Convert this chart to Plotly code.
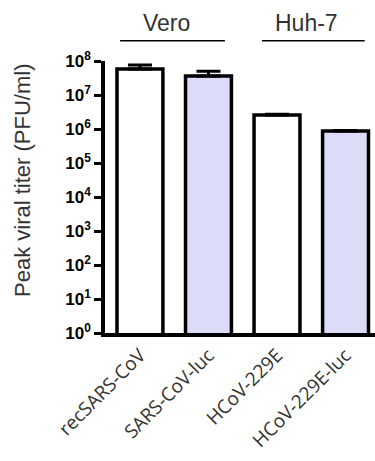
import plotly.graph_objects as go

categories = ["recSARS-CoV", "SARS-CoV-luc", "HCoV-229E", "HCoV-229E-luc"]
titers = [5.8e7, 3.6e7, 2.6e6, 8.7e5]
err_plus = [1.8e7, 1.4e7, 1.2e5, 4e4]
colors = ["white", "#dcdcf8", "white", "#dcdcf8"]
tick_vals = [10**i for i in range(0, 9)]
tick_text = ["10<sup>%d</sup>" % i for i in range(0, 9)]
groups = ["Vero", "Huh-7"]

fig = go.Figure()
fig.add_trace(go.Bar(
    x=list(range(len(categories))), y=titers,
    marker=dict(color=colors, line=dict(color="black", width=3.5)),
    width=0.67,
    error_y=dict(type="data", array=err_plus, arrayminus=[0]*4, symmetric=False,
                 color="black", thickness=3, width=12),
))

fig.update_layout(
    width=375, height=461,
    margin=dict(l=105, r=0, t=61, b=128, autoexpand=False),
    paper_bgcolor="white", plot_bgcolor="white",
    showlegend=False,
    font=dict(family="Liberation Sans, Arial, sans-serif", color="#333"),
)
fig.update_xaxes(
    range=[-0.51, 3.43], automargin=False,
    tickvals=list(range(len(categories))), ticktext=categories,
    tickangle=-45, tickfont=dict(size=19, family="Open Sans, sans-serif", color="#333"),
    showline=True, linecolor="black", linewidth=3.5, ticks="", showgrid=False, zeroline=False,
)
fig.update_yaxes(
    type="log", range=[0, 8], automargin=False,
    tickvals=tick_vals, ticktext=tick_text,
    tickfont=dict(size=17, family="Liberation Sans, Arial, sans-serif",
                  color="black", weight="bold"),
    ticks="outside", ticklen=7, tickwidth=3, tickcolor="black",
    showline=True, linecolor="black", linewidth=3.5, showgrid=False, zeroline=False,
)

fig.add_annotation(text="Peak viral titer (PFU/ml)", textangle=-90, xref="paper", yref="paper",
                   x=(22 - 105) / 270, y=(333 - 181) / 272, showarrow=False,
                   xanchor="center", yanchor="middle", font=dict(size=22, color="#333"))

# group labels with lines
for label, (x0, x1), xc in zip(groups, [(-0.29, 1.24), (1.78, 3.28)], [0.39, 2.43]):
    fig.add_shape(type="line", xref="x", yref="paper", x0=x0, x1=x1, y0=1.0746, y1=1.0746,
                  line=dict(color="black", width=1.5))
    fig.add_annotation(x=xc, y=(61 - 23) / 272 + 1, xref="x", yref="paper", text=label,
                       showarrow=False, yanchor="middle", font=dict(size=23, color="#333"))

fig.write_html("out.html", config={"displayModeBar": False},
               post_script="document.body.style.margin='0';")
